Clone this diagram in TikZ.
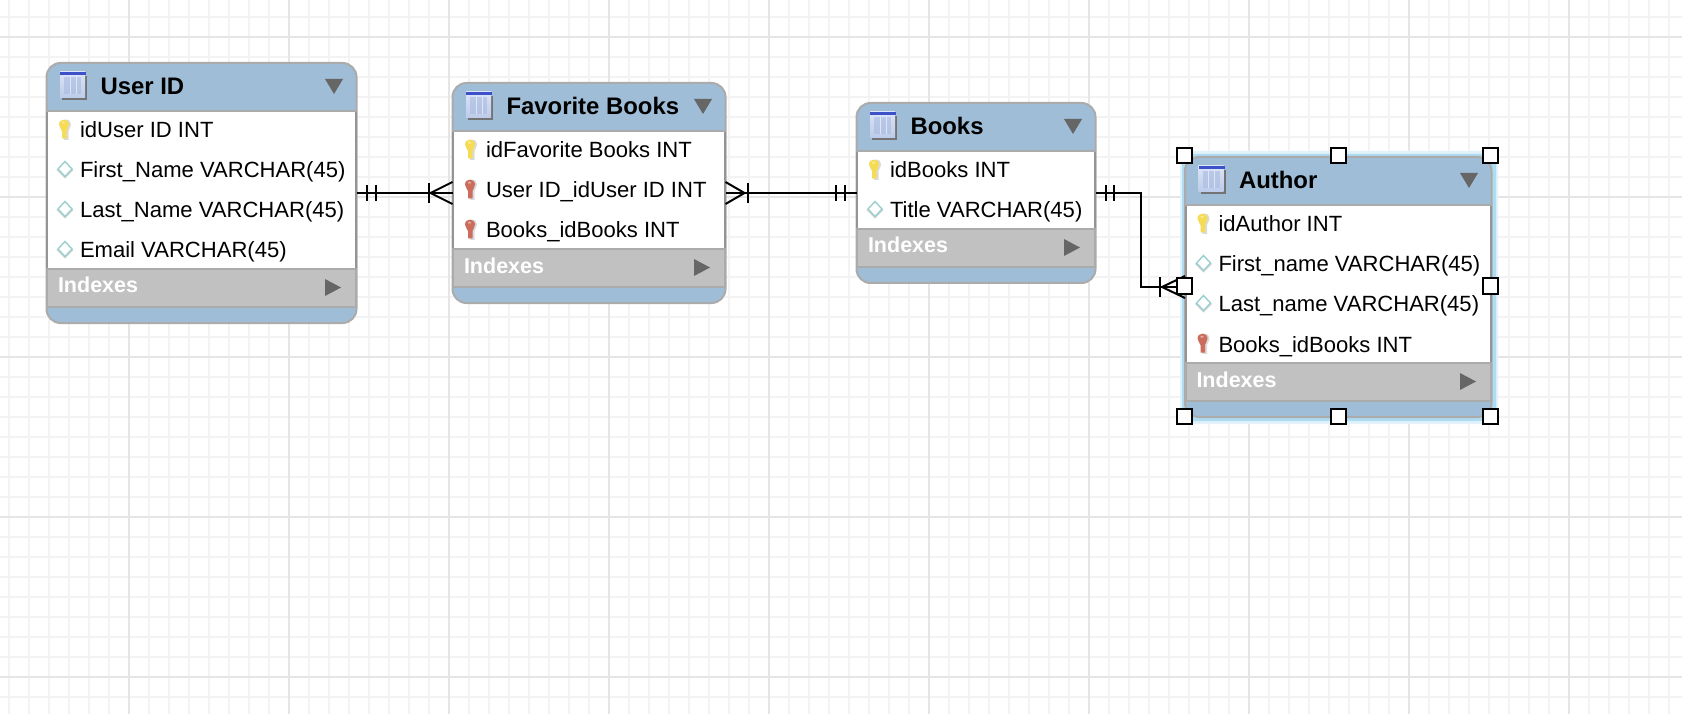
\documentclass[tikz,border=0pt]{standalone}
\usepackage{fontspec}
\setmainfont{Liberation Sans}
\usetikzlibrary{calc}
\definecolor{hdrblue}{HTML}{9FBDD7}
\definecolor{edgegray}{HTML}{ABABAB}
\definecolor{sidegray}{HTML}{949494}
\definecolor{idxgray}{HTML}{C1C1C1}
\definecolor{trigray}{HTML}{666666}
\definecolor{minorgrid}{HTML}{F3F3F3}
\definecolor{majorgrid}{HTML}{E5E5E5}
\definecolor{keyyellow}{HTML}{F6DB55}
\definecolor{keyred}{HTML}{CB6C5C}
\definecolor{diamondteal}{HTML}{9CCFCF}
\definecolor{glowout}{HTML}{E2F2FB}
\definecolor{glowin}{HTML}{AEDCF3}
\definecolor{iconbar}{HTML}{3C50C8}
\definecolor{icontop}{HTML}{DCE4F6}
\definecolor{iconbot}{HTML}{BCCBEA}
\definecolor{iconmid}{HTML}{A9BADF}
\tikzset{
  tablebox/.style={draw=edgegray,fill=hdrblue,line width=2pt,rounded corners=14pt,inner sep=0pt,outer sep=0pt},
  rowtext/.style={anchor=base west,inner sep=0pt,outer sep=0pt,font=\fontsize{22.05}{24}\selectfont,text=black},
  titletext/.style={anchor=base west,inner sep=0pt,outer sep=0pt,font=\fontsize{23.9}{26}\selectfont\bfseries,text=black},
  idxtext/.style={anchor=base west,inner sep=0pt,outer sep=0pt,font=\fontsize{21.5}{24}\selectfont\bfseries,text=white},
  link/.style={draw=black,line width=2pt},
  handlebox/.style={draw=black,fill=white,line width=2pt,minimum size=15pt,inner sep=0pt,outer sep=0pt,rectangle}
}
% key icon, centred on the origin of the current scope
\newcommand{\keyshape}[1]{%
  \fill[black!14] (-3,-5) .. controls (-3,-11) and (7,-11) .. (7,-5) .. controls (7,-1) and (4.5,0) .. (4.5,2) -- (4.5,11) -- (0,11) -- cycle;
  \fill[#1] (-5,-4.5) .. controls (-5,-11) and (5,-11) .. (5,-4.5) .. controls (5,-1) and (2.5,0) .. (2.5,2) -- (2.5,9.5) -- (-2,9.5) -- (-2,2) .. controls (-2,0) and (-5,-1) .. (-5,-4.5) -- cycle;
  \fill[white,opacity=.45] (-2.5,-6) .. controls (-2,-8) and (1,-8) .. (1.5,-6) .. controls (0,-5) and (-2,-5) .. (-2.5,-6) -- cycle;
}
\newcommand{\iconpk}{\keyshape{keyyellow}}
\newcommand{\iconfk}{\keyshape{keyred}}
\newcommand{\iconcol}{%
  \draw[black!16,line width=1.5pt] (1,-6.5) -- (8.5,1) -- (1,8.5) -- (-6.5,1) -- cycle;
  \draw[diamondteal,fill=white,line width=1.4pt] (1,-7.5) -- (8,0) -- (1,7.5) -- (-6,0) -- cycle;
}
% name, left, top, right, number of rows, title, rows
\newcommand{\ertable}[7]{%
  \pgfmathsetmacro{\tl}{#2}\pgfmathsetmacro{\tt}{#3}\pgfmathsetmacro{\tr}{#4}
  \pgfmathsetmacro{\tb}{#3+100+40*#5}
  \pgfmathsetmacro{\ti}{#3+46+40*#5}
  \node[tablebox,minimum width={(\tr-\tl-1)*1pt},minimum height={(\tb-\tt)*1pt}] (#1) at ({(\tl+\tr)/2},{(\tt+\tb)/2}) {};
  \fill[white] (\tl+1,\tt+48) rectangle (\tr-1,\ti);
  \fill[idxgray] (\tl+1,\ti) rectangle (\tr-1,\ti+38);
  \draw[sidegray,line width=2pt] (\tl+1,\tt+48) -- (\tl+1,\ti) (\tr-1,\tt+48) -- (\tr-1,\ti);
  \draw[edgegray,line width=2pt] (\tl+1,\ti) -- (\tl+1,\ti+38) (\tr-1,\ti) -- (\tr-1,\ti+38);
  \draw[edgegray,line width=2pt] (\tl,\tt+48) -- (\tr,\tt+48) (\tl,\ti) -- (\tr,\ti) (\tl,\ti+38) -- (\tr,\ti+38);
  % table icon
  \fill[black!55] (\tl+16,\tt+13) rectangle (\tl+41,\tt+37);
  \shade[top color=icontop,bottom color=iconbot] (\tl+14,\tt+9) rectangle (\tl+39,\tt+35);
  \fill[iconbar] (\tl+14,\tt+9) rectangle (\tl+40,\tt+12);
  \fill[iconmid,opacity=.6] (\tl+18,\tt+14) rectangle (\tl+35,\tt+31);
  \draw[white,opacity=.55,line width=1pt] (\tl+24,\tt+14) -- (\tl+24,\tt+31) (\tl+30,\tt+14) -- (\tl+30,\tt+31);
  \node[titletext] (#1-title) at (\tl+54.5,\tt+32) {#6};
  \fill[trigray] (\tr-32,\tt+16) -- (\tr-14,\tt+16) -- (\tr-23,\tt+31) -- cycle;
  \foreach \kind/\txt [count=\n] in {#7} {
    \pgfmathsetmacro{\ry}{\tt+26+40*\n}
    \begin{scope}[shift={(\tl+18,\ry)}]\csname icon\kind\endcsname\end{scope}
    \node[rowtext] (#1-row\n) at (\tl+34,\ry+9) {\txt};
  }
  \node[idxtext] (#1-idx) at (\tl+12,\ti+24) {Indexes};
  \fill[trigray] (\tr-32,\ti+10) -- (\tr-16,\ti+18.5) -- (\tr-32,\ti+27) -- cycle;
}
% double tick at signed distances from an anchor
\newcommand{\twoticks}[3]{%
  \draw[link] ($(#1)+(#2,-8)$) -- ($(#1)+(#2,8)$) ($(#1)+(#3,-8)$) -- ($(#1)+(#3,8)$);
}
% crow's foot at an anchor: signed distance of the bar, signed distance of the apex
\newcommand{\crowfoot}[3]{%
  \draw[link] ($(#1)+(#2,-10)$) -- ($(#1)+(#2,10)$);
  \draw[link] ($(#1)+(0,-11)$) -- ($(#1)+(#3,0)$) -- ($(#1)+(0,11)$);
}
\begin{document}
\begin{tikzpicture}[x=1pt,y=-1pt]
\useasboundingbox (0,0) rectangle (1682,714);
\fill[white] (0,0) rectangle (1682,714);
% grid
\foreach \gx in {9,29,...,1669} \draw[minorgrid,line width=2pt] (\gx,0) -- (\gx,714);
\foreach \gy in {17,37,...,697} \draw[minorgrid,line width=2pt] (0,\gy) -- (1682,\gy);
\foreach \gx in {129,289,...,1569} \draw[majorgrid,line width=2pt] (\gx,0) -- (\gx,714);
\foreach \gy in {37,197,...,677} \draw[majorgrid,line width=2pt] (0,\gy) -- (1682,\gy);
% selection glow behind Author
\fill[glowout,rounded corners=6pt] (1180,151) rectangle (1498,424);
\fill[glowin,rounded corners=6pt] (1182,154) rectangle (1496,421);
% tables
\ertable{user}{46}{63}{357}{4}{User ID}{pk/{idUser ID INT},col/{First\_Name VARCHAR(45)},col/{Last\_Name VARCHAR(45)},col/{Email VARCHAR(45)}}
\ertable{fav}{452}{83}{726}{3}{Favorite Books}{pk/{idFavorite Books INT},fk/{User ID\_idUser ID INT},fk/{Books\_idBooks INT}}
\ertable{books}{856}{103}{1096}{2}{Books}{pk/{idBooks INT},col/{Title VARCHAR(45)}}
\ertable{author}{1184.5}{157}{1492}{4}{Author}{pk/{idAuthor INT},col/{First\_name VARCHAR(45)},col/{Last\_name VARCHAR(45)},fk/{Books\_idBooks INT}}
% connectors
\coordinate (bend) at (1141,240);
\draw[link] (user) -- (fav);
\draw[link] (fav) -- (books);
\draw[link] (books.east) -| (bend) |- (author.west);
\twoticks{user.east}{10}{19}
\crowfoot{fav.west}{-24}{-22}
\crowfoot{fav.east}{22}{19}
\twoticks{books.west}{-21}{-12}
\twoticks{books.east}{10}{18}
\crowfoot{author.west}{-25}{-23}
% selection handles
\node[handlebox] (h-nw) at ($(author.north west)+(-1,-1)$) {};
\node[handlebox] (h-n) at ($(author.north)+(0,-1)$) {};
\node[handlebox] (h-ne) at ($(author.north east)+(-1.5,-1)$) {};
\node[handlebox] (h-w) at ($(author.west)+(-1,-1)$) {};
\node[handlebox] (h-e) at ($(author.east)+(-1.5,-1)$) {};
\node[handlebox] (h-sw) at ($(author.south west)+(-1,-1)$) {};
\node[handlebox] (h-s) at ($(author.south)+(0,-1)$) {};
\node[handlebox] (h-se) at ($(author.south east)+(-1.5,-1)$) {};
\end{tikzpicture}
\end{document}
